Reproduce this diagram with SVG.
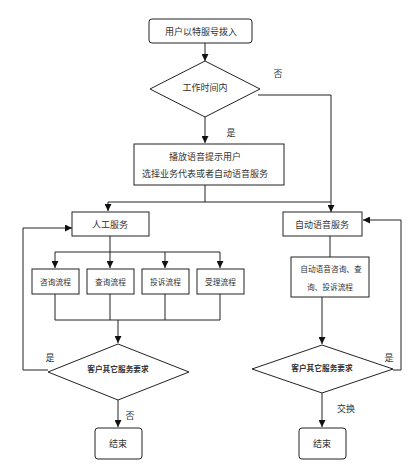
<svg xmlns="http://www.w3.org/2000/svg" width="419" height="474" viewBox="0 0 419 474">
<defs>
<marker id="ah" viewBox="0 0 10 10" refX="10" refY="5" markerWidth="7" markerHeight="7" markerUnits="userSpaceOnUse" orient="auto"><path d="M0,0 L10,5 L0,10 z" fill="#111"/></marker>
<style>
.b{fill:#fff;stroke:#222;stroke-width:1}
.c{fill:none;stroke:#222;stroke-width:1}
.a{fill:none;stroke:#222;stroke-width:1;marker-end:url(#ah)}
text{font-family:"Noto Sans CJK SC",sans-serif;fill:#333;text-anchor:middle;dominant-baseline:central}
.t9{font-size:9px}
.t8{font-size:7.7px}
.l{font-size:9px}
</style>
</defs>
<rect width="419" height="474" fill="#fff"/>
<g id="connectors">
<path class="a" d="M205,43 V61"/>
<path class="a" d="M258,95 H331 V212"/>
<path class="a" d="M205,117 V143"/>
<path class="c" d="M205,185 V202 M108,202 H331"/>
<path class="a" d="M108,202 V211"/>
<path class="a" d="M48,370 H23 V228 H72"/>
<path class="c" d="M110,236 V252 M55,252 H220"/>
<path class="a" d="M55,252 V268"/>
<path class="a" d="M110,252 V268"/>
<path class="a" d="M165,252 V268"/>
<path class="a" d="M220,252 V268"/>
<path class="c" d="M55,294 V320 M110,294 V320 M165,294 V320 M220,294 V320 M55,320 H220"/>
<path class="a" d="M118,320 V343"/>
<path class="a" d="M118,400 V427"/>
<path class="c" d="M330,236 V257"/>
<path class="a" d="M322,297 V344"/>
<path class="a" d="M393,370 H401 V220 H363"/>
<path class="a" d="M322,393 V427"/>
<text class="l" x="278" y="73">否</text>
<text class="l" x="231" y="132">是</text>
<text class="l" x="50" y="357">是</text>
<text class="l" x="130" y="415">否</text>
<text class="l" x="389" y="357">是</text>
<text class="l" x="346" y="408">交换</text>
</g>
<g id="start"><rect class="b" x="149" y="19" width="103" height="24" rx="3"/><text class="t9" x="201" y="31">用户以特服号拨入</text></g>
<g id="d1"><polygon class="b" points="205,61 260,89 205,117 150,89"/><text class="t9" x="205" y="87">工作时间内</text></g>
<g id="play"><rect class="b" x="134" y="144" width="150" height="41"/><text class="t9" x="205" y="156">播放语音提示用户</text><text class="t9" x="205" y="173">选择业务代表或者自动语音服务</text></g>
<g id="manual"><rect class="b" x="72" y="212" width="77" height="24"/><text class="t9" x="110" y="224">人工服务</text></g>
<g id="auto"><rect class="b" x="283" y="212" width="79" height="24"/><text class="t9" x="322" y="224">自动语音服务</text></g>
<g id="p1"><rect class="b" x="32" y="269" width="47" height="25"/><text class="t8" x="55.5" y="281">咨询流程</text></g>
<g id="p2"><rect class="b" x="87" y="269" width="47" height="25"/><text class="t8" x="110.5" y="281">查询流程</text></g>
<g id="p3"><rect class="b" x="142" y="269" width="47" height="25"/><text class="t8" x="165.5" y="281">投诉流程</text></g>
<g id="p4"><rect class="b" x="197" y="269" width="47" height="25"/><text class="t8" x="220.5" y="281">受理流程</text></g>
<g id="autoflow"><rect class="b" x="291" y="257" width="78" height="40"/><text class="t8" x="331" y="268">自动语音咨询、查</text><text class="t8" x="330" y="286">询、投诉流程</text></g>
<g id="d2"><polygon class="b" points="118,344 189,372 118,400 48,372"/><text class="t8" x="118" y="368" font-weight="bold">客户其它服务要求</text></g>
<g id="d3"><polygon class="b" points="322,345 393,369 322,393 252,369"/><text class="t8" x="322" y="367" font-weight="bold">客户其它服务要求</text></g>
<g id="end1"><rect class="b" x="95" y="428" width="47" height="31" rx="3"/><text class="t9" x="118" y="443">结束</text></g>
<g id="end2"><rect class="b" x="299" y="428" width="47" height="31" rx="3"/><text class="t9" x="322" y="443">结束</text></g>
</svg>
